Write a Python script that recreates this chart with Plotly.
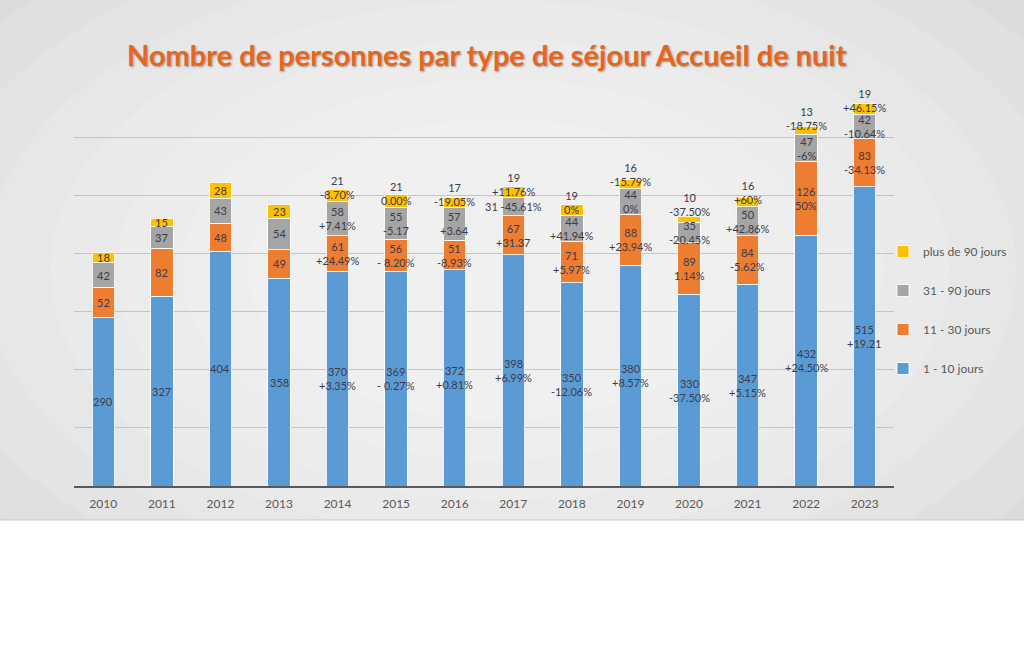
import plotly.graph_objects as go

years = ["2010", "2011", "2012", "2013", "2014", "2015", "2016",
         "2017", "2018", "2019", "2020", "2021", "2022", "2023"]

series_names = ["1 - 10 jours", "11 - 30 jours", "31 - 90 jours", "plus de 90 jours"]

s_1_10 = [290, 327, 404, 358, 370, 369, 372, 398, 350, 380, 330, 347, 432, 515]
s_11_30 = [52, 82, 48, 49, 61, 56, 51, 67, 71, 88, 89, 84, 126, 83]
s_31_90 = [42, 37, 43, 54, 58, 55, 57, 31, 44, 44, 35, 50, 47, 42]
s_90p = [18, 15, 28, 23, 21, 21, 17, 19, 19, 16, 10, 16, 13, 19]

pct_1_10 = [None, None, None, None, "+3.35%", "- 0.27%", "+0.81%", "+6.99%",
            "-12.06%", "+8.57%", "-37.50%", "+5.15%", "+24.50%", "+19.21"]
pct_11_30 = [None, None, None, None, "+24.49%", "- 8.20%", "-8.93%", "+31.37",
             "+5.97%", "+23.94%", "1.14%", "-5.62%", "50%", "-34.13%"]
pct_31_90 = [None, None, None, None, "+7.41%", "-5.17", "+3.64", "-45.61%",
             "+41.94%", "0%", "-20.45%", "+42.86%", "-6%", "-10.64%"]
pct_90p = [None, None, None, None, "-8.70%", "0.00%", "-19.05%", "+11.76%",
           "0%", "-15.79%", "-37.50%", "+60%", "-18.75%", "+46.15%"]

title_text = "Nombre de personnes par type de séjour Accueil de nuit"

values = [s_1_10, s_11_30, s_31_90, s_90p]
pcts = [pct_1_10, pct_11_30, pct_31_90, pct_90p]
colors = ["#5B9BD5", "#ED7D31", "#A5A5A5", "#FFC000"]

fig = go.Figure()
for k, (name, vals, col) in enumerate(zip(series_names, values, colors)):
    fig.add_trace(go.Bar(
        x=years, y=vals, name=name, legendgroup=name, legendrank=10 - k,
        marker=dict(color=col, line=dict(color="rgba(255,255,255,0.85)", width=1)),
        hoverinfo="x+y+name",
    ))

# data labels placed at segment midpoints (computed from the data)
annotations = []
label_font = dict(family="Lato, Open Sans, sans-serif", size=11, color="#3b3b4a")
for i, yr in enumerate(years):
    base = 0
    for k in range(4):
        v = values[k][i]
        mid = base + v / 2
        base += v
        p = pcts[k][i]
        shift = 0
        if p is None:
            txt = str(v)
        elif k < 3 and v <= 31:
            txt = f"{v} {p}"
        else:
            txt = f"{v}<br>{p}"
            if k == 3:
                shift = max(8, 25 - v)
        annotations.append(dict(
            x=i, y=mid, xref="x", yref="y", text=txt, showarrow=False,
            font=label_font, yshift=shift, align="center",
            xanchor="center", yanchor="middle",
        ))

L, R, T, B = 74, 130, 79, 163
W, H = 1024, 649
pw, ph = W - L - R, H - T - B
def px_x(p):
    return (p - L) / pw
def px_y(p):
    return (H - B - p) / ph

annotations.append(dict(
    x=px_x(487), y=px_y(55), xref="paper", yref="paper", text=title_text,
    showarrow=False, xanchor="center", yanchor="middle",
    font=dict(family="Lato, Open Sans, sans-serif", size=29, color="#E8651C",
              weight="bold", shadow="1px 1px 2px rgba(0,0,0,0.35)"),
))

shapes = [
    dict(type="rect", xref="paper", yref="paper", x0=px_x(0), x1=px_x(1024),
         y0=px_y(520), y1=px_y(0), fillcolor="#d2d2d2", line=dict(width=0),
         layer="below"),
]
# soft radial-like lightening toward center
n = 9
for j in range(n):
    frac = 1.3 - j * 0.11
    cx, cy = 500, 270
    rx, ry = 600 * frac, 360 * frac
    shapes.append(dict(type="circle", xref="paper", yref="paper",
                       x0=px_x(cx - rx), x1=px_x(cx + rx),
                       y0=px_y(cy + ry), y1=px_y(cy - ry),
                       fillcolor="white", opacity=0.13, line=dict(width=0),
                       layer="below"))
shapes.append(dict(type="rect", xref="paper", yref="paper", x0=px_x(-50), x1=px_x(1080),
                   y0=px_y(700), y1=px_y(520), fillcolor="white", line=dict(width=0),
                   layer="below"))
shapes.append(dict(type="rect", xref="paper", yref="paper", x0=px_x(-50), x1=px_x(1080),
                   y0=px_y(0), y1=px_y(-60), fillcolor="white", line=dict(width=0),
                   layer="below"))
shapes.append(dict(type="line", xref="paper", yref="paper", x0=px_x(0), x1=px_x(1024),
                   y0=px_y(520), y1=px_y(520), line=dict(color="#c8c8c8", width=1),
                   layer="below"))

fig.update_layout(
    width=W, height=H,
    margin=dict(l=L, r=R, t=T, b=B, pad=0),
    barmode="stack", bargap=0.615,
    paper_bgcolor="white", plot_bgcolor="rgba(0,0,0,0)",
    font=dict(family="Lato, Open Sans, sans-serif", color="#595959"),
    showlegend=True,
    legend=dict(
        x=px_x(883), y=px_y(237), xanchor="left", yanchor="top",
        traceorder="grouped", tracegroupgap=20,
        font=dict(size=12, color="#595959"), bgcolor="rgba(0,0,0,0)",
    ),
    xaxis=dict(type="category", range=[-0.5, len(years) - 0.5], showline=True,
               linecolor="#595959", linewidth=2,
               ticks="", tickfont=dict(size=12, color="#595959"),
               ticklabelstandoff=6, showgrid=False, fixedrange=True),
    yaxis=dict(range=[0, 700.5], dtick=100, showticklabels=False, showgrid=True,
               gridcolor="#c4c4c4", gridwidth=1, zeroline=False, fixedrange=True),
    annotations=annotations,
    shapes=shapes,
)

fig.write_html("out.html")
